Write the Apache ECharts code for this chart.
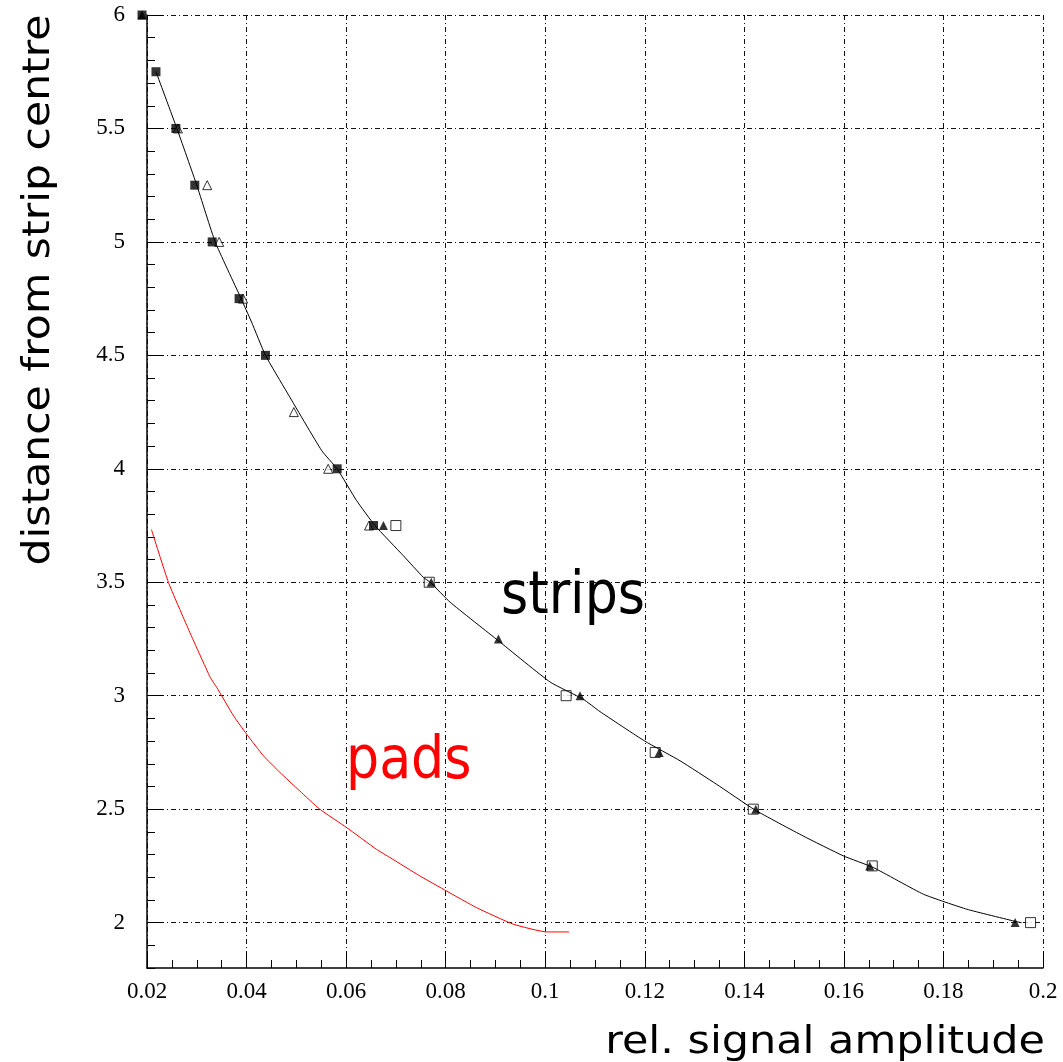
<!DOCTYPE html>
<html><head><meta charset="utf-8">
<script src="https://cdn.jsdelivr.net/npm/echarts@6/dist/echarts.min.js"></script>
<style>html,body{margin:0;padding:0;background:#fff}#c{width:1063px;height:1062px}</style>
</head><body><div id="c"></div>
<script>
// ---- tick values and labels ----
const xTicks = [0.02, 0.04, 0.06, 0.08, 0.1, 0.12, 0.14, 0.16, 0.18, 0.2];
const xTickLabels = ['0.02', '0.04', '0.06', '0.08', '0.1', '0.12', '0.14', '0.16', '0.18', '0.2'];
const yTicks = [2, 2.5, 3, 3.5, 4, 4.5, 5, 5.5, 6];
const yTickLabels = ['2', '2.5', '3', '3.5', '4', '4.5', '5', '5.5', '6'];

// ---- measured points (rel. signal amplitude, distance) ----
const filledSquares = [[0.019, 6], [0.0218, 5.75], [0.0258, 5.5], [0.0296, 5.25], [0.0331, 5.0], [0.0385, 4.75], [0.0438, 4.5], [0.0582, 4.0], [0.0655, 3.75]];
const openTriangles = [[0.0262, 5.5], [0.0321, 5.25], [0.0345, 5.0], [0.0393, 4.75], [0.0495, 4.25], [0.0564, 4.0], [0.0646, 3.75]];
const filledTriangles = [[0.019, 6], [0.0675, 3.75], [0.0771, 3.5], [0.0906, 3.25], [0.1070, 3.0], [0.1229, 2.75], [0.1423, 2.5], [0.1652, 2.25], [0.1944, 2.0]];
const openSquares = [[0.0700, 3.75], [0.0767, 3.5], [0.1042, 3.0], [0.1221, 2.75], [0.1418, 2.5], [0.1657, 2.25], [0.1975, 2.0]];

// ---- curves ----
const stripsCurve = [[0.0218, 5.75], [0.0260, 5.5], [0.0300, 5.25], [0.0337, 5.0], [0.0387, 4.76], [0.0410, 4.647], [0.0438, 4.5], [0.0481, 4.338], [0.0551, 4.08], [0.0582, 4.0], [0.0621, 3.86], [0.0658, 3.75], [0.0715, 3.617], [0.0755, 3.522], [0.0769, 3.5], [0.0809, 3.412], [0.0906, 3.242], [0.1010, 3.06], [0.1076, 2.985], [0.1110, 2.93], [0.1200, 2.80], [0.1271, 2.713], [0.1344, 2.61], [0.1421, 2.497], [0.1518, 2.382], [0.1599, 2.294], [0.1659, 2.243], [0.1760, 2.125], [0.1847, 2.059], [0.1947, 2.004], [0.1957, 2.0]];
const padsCurve = [[0.0209, 3.732], [0.0243, 3.5], [0.0283, 3.294], [0.0327, 3.081], [0.0340, 3.037], [0.0374, 2.911], [0.0400, 2.831], [0.0434, 2.735], [0.0467, 2.662], [0.0507, 2.580], [0.0547, 2.5], [0.0601, 2.419], [0.0661, 2.323], [0.0688, 2.287], [0.0748, 2.206], [0.0802, 2.139], [0.0862, 2.066], [0.0936, 1.993], [0.1003, 1.959], [0.1048, 1.959]];

function lab(ticks, labels) {
  return function (v) {
    const i = ticks.findIndex(t => Math.abs(t - v) < 1e-9);
    return i >= 0 ? labels[i] : '';
  };
}

const gridLine = { show: true, lineStyle: { color: '#111', width: 1, type: [5, 3, 1, 3] } };
const serif = 'Liberation Serif';
const sans = 'DejaVu Sans';

const chart = echarts.init(document.getElementById('c'), null, { renderer: 'canvas' });
chart.setOption({
  animation: false,
  backgroundColor: '#fff',
  grid: { left: 147, right: 20, top: 15, bottom: 94, containLabel: false },
  xAxis: {
    type: 'value', min: 0.02, max: 0.2, interval: 0.02,
    axisLine: { show: true, onZero: false, lineStyle: { color: '#000', width: 1.5 } },
    axisTick: { show: true, inside: true, length: 16, lineStyle: { color: '#000', width: 1 } },
    minorTick: { show: true, splitNumber: 4, length: 8, lineStyle: { color: '#000', width: 1 } },
    axisLabel: { margin: 12, fontFamily: serif, fontSize: 23, color: '#000', formatter: lab(xTicks, xTickLabels), hideOverlap: false, showMinLabel: true, showMaxLabel: true },
    splitLine: gridLine
  },
  yAxis: [{
    type: 'value', min: 1.8, max: 6, interval: 0.1,
    axisLine: { show: true, onZero: false, lineStyle: { color: '#000', width: 1.5 } },
    axisTick: { show: true, inside: true, length: 16, customValues: yTicks, lineStyle: { color: '#000', width: 1 } },
    axisLabel: { margin: 22, fontFamily: serif, fontSize: 23, color: '#000', customValues: yTicks, formatter: lab(yTicks, yTickLabels) },
    splitLine: gridLine
  }, {
    type: 'value', min: 1.8, max: 6, interval: 0.1, position: 'left',
    axisLine: { show: false },
    axisTick: { show: true, inside: true, length: 8, lineStyle: { color: '#000', width: 1 } },
    axisLabel: { show: false },
    splitLine: { show: false }
  }],
  series: [
    { type: 'line', data: padsCurve, showSymbol: false, symbol: 'none', smooth: 0.15, lineStyle: { color: '#ff0000', width: 1 }, z: 3, silent: true },
    { type: 'scatter', data: openTriangles, symbol: 'triangle', symbolSize: 9, clip: false, itemStyle: { color: '#fff', borderColor: '#000', borderWidth: 1 }, z: 4 },
    { type: 'scatter', data: filledSquares, symbol: 'rect', symbolSize: 9, clip: false, itemStyle: { color: '#000' }, z: 5 },
    { type: 'scatter', data: openSquares, symbol: 'rect', symbolSize: 10, clip: false, itemStyle: { color: '#fff', borderColor: '#000', borderWidth: 1 }, z: 6 },
    { type: 'scatter', data: filledTriangles, symbol: 'triangle', symbolSize: 9, clip: false, itemStyle: { color: '#000' }, z: 7 },
    { type: 'line', data: stripsCurve, showSymbol: false, symbol: 'none', smooth: 0.15, lineStyle: { color: '#000', width: 1 }, z: 8, silent: true }
  ],
  graphic: [
    { type: 'text', x: 501, y: 598, scaleX: 0.9, style: { text: 'strips', fontFamily: sans, fontSize: 58, fill: '#000', align: 'left', verticalAlign: 'middle' } },
    { type: 'text', x: 346, y: 763, scaleX: 0.9, style: { text: 'pads', fontFamily: sans, fontSize: 58, fill: '#ff0000', align: 'left', verticalAlign: 'middle' } },
    { type: 'text', x: 1045, y: 1043, scaleX: 1.16, style: { text: 'rel. signal amplitude', fontFamily: sans, fontSize: 37, fill: '#000', align: 'right', verticalAlign: 'middle' } },
    { type: 'text', x: 39, y: 290, rotation: Math.PI / 2, scaleX: 1.15, style: { text: 'distance from strip centre', fontFamily: sans, fontSize: 37, fill: '#000', align: 'center', verticalAlign: 'middle' } }
  ]
});
</script>
</body></html>
